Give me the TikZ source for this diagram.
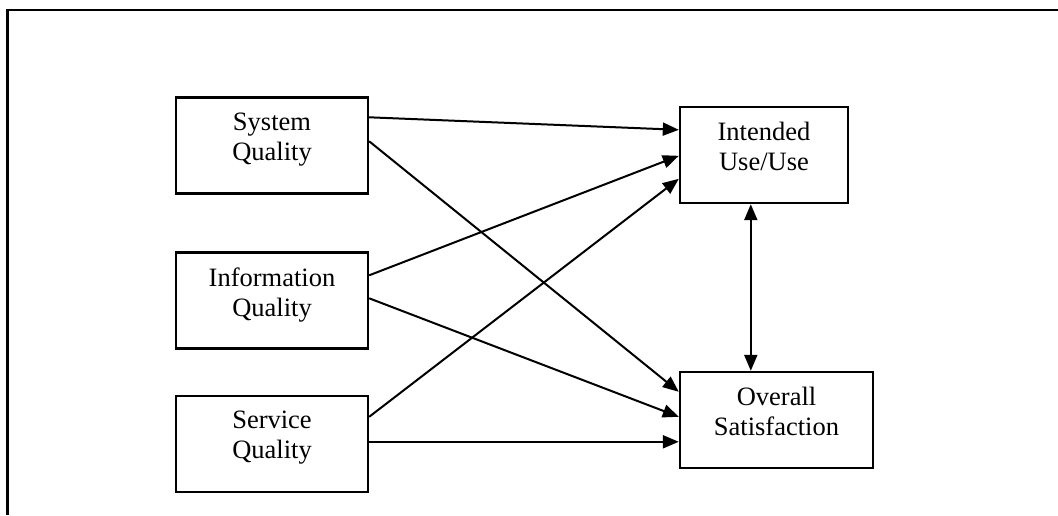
\documentclass[tikz,border=0pt]{standalone}
\usepackage{fontspec}
\setmainfont{Liberation Serif}
\usetikzlibrary{arrows.meta,calc}
\begin{document}
\begin{tikzpicture}[x=1pt,y=-1pt,
  box/.style={draw,line width=2.4pt,rectangle,inner sep=0pt,minimum height=96pt},
  boxtext/.style={anchor=north,align=center,inner sep=0pt,
    font=\fontsize{26.5}{30}\selectfont},
  link/.style={line width=2pt,-{Triangle[length=16pt,width=13pt]}},
  both/.style={line width=2pt,{Triangle[length=16pt,width=13pt]}-{Triangle[length=16pt,width=13pt]}}]
\useasboundingbox (0,0) rectangle (1058,515);
% open frame: left and top edges
\draw[line width=2.4pt] (7.5,515) -- (7.5,10) -- (1058,10);
% quality factors
\node[box,minimum width=192pt] (sq) at (272,145.5) {};
\node[box,minimum width=192pt] (iq) at (272,300.5) {};
\node[box,minimum width=192pt] (svq) at (272,444) {};
% outcomes
\node[box,minimum width=168pt] (iu) at (764,155) {};
\node[box,minimum width=193pt] (os) at (776.5,420) {};
% labels
\node[boxtext] (sqt) at ($(sq.north)+(0,16)$) {System\\Quality};
\node[boxtext] (iqt) at ($(iq.north)+(0,16)$) {Information\\Quality};
\node[boxtext] (svqt) at ($(svq.north)+(0,16)$) {Service\\Quality};
\node[boxtext] (iut) at ($(iu.north)+(0,16)$) {Intended\\Use/Use};
\node[boxtext] (ost) at ($(os.north)+(0,16)$) {Overall\\Satisfaction};
% paths into Intended Use/Use
\draw[link] ($(sq.north east)+(0,21)$) -- ($(iu.north west)+(0,24)$);
\draw[link] ($(iq.north east)+(0,24)$) -- ($(iu.north west)+(0,50)$);
\draw[link] ($(svq.north east)+(0,22)$) -- ($(iu.north west)+(0,73)$);
% paths into Overall Satisfaction
\draw[link] ($(sq.north east)+(0,45)$) -- ($(os.north west)+(0,21)$);
\draw[link] ($(iq.north east)+(0,47)$) -- ($(os.north west)+(0,46)$);
\draw[link] ($(svq.north east)+(0,47)$) -- ($(os.north west)+(0,71)$);
% reciprocal link
\draw[both] ($(iu.south west)+(72,0)$) -- ($(os.north west)+(72,0)$);
\end{tikzpicture}
\end{document}
